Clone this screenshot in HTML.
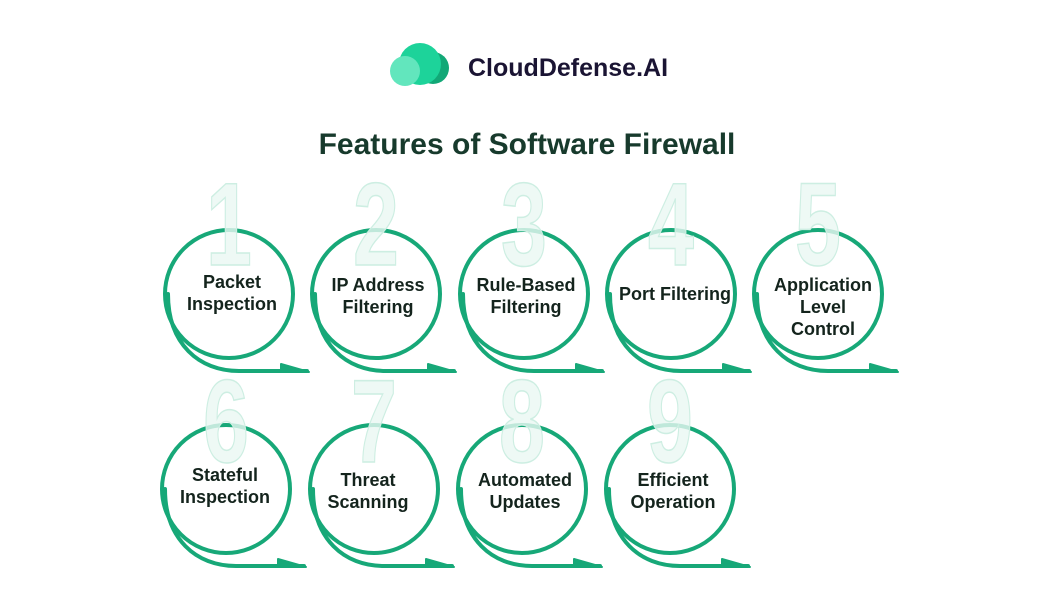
<!DOCTYPE html>
<html><head><meta charset="utf-8"><style>
html,body{margin:0;padding:0;background:#fff;width:1054px;height:602px;overflow:hidden}
svg{display:block}
</style></head><body>
<svg width="1054" height="602" viewBox="0 0 1054 602" xmlns="http://www.w3.org/2000/svg">
<defs>
<g id="tail">
<path d="M-61 0 C-61 50 -30 77 10 77 L78 77" fill="none" stroke="#17a878" stroke-width="4" stroke-linecap="round"/>
<path d="M52 70 L80 78 L52 76 Z" fill="#17a878" stroke="#17a878" stroke-width="2" stroke-linejoin="round"/>
</g>
</defs>
<circle cx="433" cy="68" r="16" fill="#12a877"/>
<circle cx="420" cy="64" r="21" fill="#1dd39a"/>
<circle cx="405" cy="71" r="15" fill="#62e6bd"/>
<text x="468" y="76" font-family="Liberation Sans, sans-serif" font-weight="bold" font-size="25" fill="#1a1433">CloudDefense.AI</text>
<text x="527" y="154" text-anchor="middle" font-family="Liberation Sans, sans-serif" font-weight="bold" font-size="30" fill="#173a2c">Features of Software Firewall</text>

<g fill="none" stroke="#17a878" stroke-width="4">
<circle cx="229" cy="294" r="64"/><circle cx="376" cy="294" r="64"/><circle cx="524" cy="294" r="64"/><circle cx="671" cy="294" r="64"/><circle cx="818" cy="294" r="64"/>
<circle cx="226" cy="489" r="64"/><circle cx="374" cy="489" r="64"/><circle cx="522" cy="489" r="64"/><circle cx="670" cy="489" r="64"/>
</g>

<g font-family="Liberation Sans, sans-serif" font-weight="bold" font-size="118" fill="#eaf8f3" fill-opacity="0.8" stroke="#cdeee2" stroke-width="1.5" text-anchor="middle">
<text transform="translate(229,265) scale(0.7,1)">1</text>
<text transform="translate(376,265) scale(0.7,1)">2</text>
<text transform="translate(524,265) scale(0.7,1)">3</text>
<text transform="translate(671,265) scale(0.7,1)">4</text>
<text transform="translate(818,265) scale(0.7,1)">5</text>
<text transform="translate(226,462) scale(0.7,1)">6</text>
<text transform="translate(374,462) scale(0.7,1)">7</text>
<text transform="translate(522,462) scale(0.7,1)">8</text>
<text transform="translate(670,462) scale(0.7,1)">9</text>
</g>

<use href="#tail" x="229" y="294"/><use href="#tail" x="376" y="294"/><use href="#tail" x="524" y="294"/><use href="#tail" x="671" y="294"/><use href="#tail" x="818" y="294"/>
<use href="#tail" x="226" y="489"/><use href="#tail" x="374" y="489"/><use href="#tail" x="522" y="489"/><use href="#tail" x="670" y="489"/>

<g font-family="Liberation Sans, sans-serif" font-weight="bold" font-size="18" fill="#14241d" text-anchor="middle">
<text x="232" y="288">Packet</text><text x="232" y="310">Inspection</text>
<text x="378" y="291">IP Address</text><text x="378" y="313">Filtering</text>
<text x="526" y="291">Rule-Based</text><text x="526" y="313">Filtering</text>
<text x="675" y="300">Port Filtering</text>
<text x="823" y="291">Application</text><text x="823" y="313">Level</text><text x="823" y="335">Control</text>
<text x="225" y="481">Stateful</text><text x="225" y="503">Inspection</text>
<text x="368" y="486">Threat</text><text x="368" y="508">Scanning</text>
<text x="525" y="486">Automated</text><text x="525" y="508">Updates</text>
<text x="673" y="486">Efficient</text><text x="673" y="508">Operation</text>
</g>
</svg>
</body></html>
